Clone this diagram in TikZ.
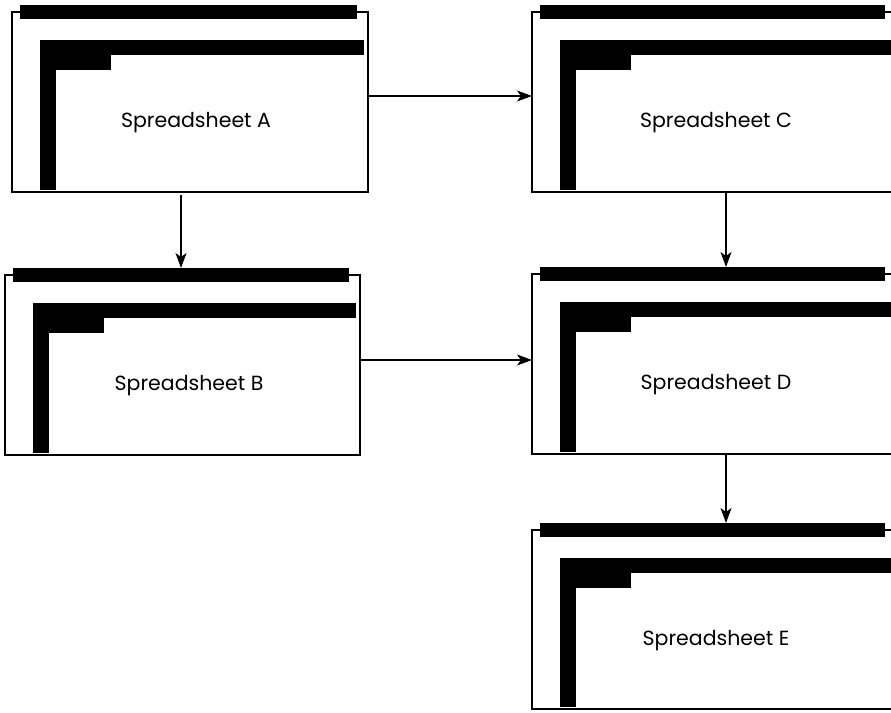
\documentclass[tikz,border=0pt]{standalone}
\usepackage{fontspec}
\setmainfont{Poppins}
\usetikzlibrary{arrows.meta,calc}
\tikzset{
  sheet/.style={draw=black, line width=1.3pt, fill=white, inner sep=0pt, outer sep=0pt},
  topbar/.style={fill=black, draw=none, inner sep=0pt, outer sep=0pt, minimum height=14pt},
  lbl/.style={font=\fontsize{20.5}{24}\selectfont, inner sep=0pt},
  arr/.style={line width=1.1pt, -{Stealth[length=15pt,width=11pt,inset=4pt]}},
}
\newcommand\sheetbox[6]{% name, L, T, R, B, label
  \node[sheet, minimum width={(#4-#2)*1pt}, minimum height={(#5-#3)*1pt}] (#1) at ({(#2+#4)/2},{(#3+#5)/2}) {};
  \node[topbar, minimum width={(#4-#2-19)*1pt}] (#1top) at ({(#2+#4-3)/2},#3) {};
  \fill (#2+28,#3+28) rectangle (#4-4,#3+43);
  \fill (#2+28,#3+28) rectangle (#2+99,#3+58);
  \fill (#2+28,#3+28) rectangle (#2+44,#5-2);
  \node[lbl] (#1lbl) at (#2+184,#3+111) {#6};
}
\begin{document}
\begin{tikzpicture}[x=1pt,y=-1pt]
  \useasboundingbox (0,0) rectangle (891,712);
  \clip (0,0) rectangle (891,712);
  \sheetbox{A}{12}{12}{368}{192}{Spreadsheet A}
  \sheetbox{B}{5}{275}{360}{455}{Spreadsheet B}
  \sheetbox{C}{532}{12}{896}{192}{Spreadsheet C}
  \sheetbox{D}{532}{274}{896}{454}{Spreadsheet D}
  \sheetbox{E}{532}{530}{896}{709}{Spreadsheet E}
  \draw[arr] ([yshift=6pt]A.east) -- ([yshift=6pt]C.west);
  \draw[arr] ([yshift=5pt]B.east) -- ([yshift=5pt]B.east -| D.west);
  \draw[arr] ([yshift=-3pt]A.south -| Btop.north) -- (Btop.north);
  \draw[arr] ([xshift=194pt]C.south west) -- ([xshift=194pt]C.south west |- Dtop.north);
  \draw[arr] ([xshift=194pt]D.south west) -- ([xshift=194pt]D.south west |- Etop.north);
\end{tikzpicture}
\end{document}
